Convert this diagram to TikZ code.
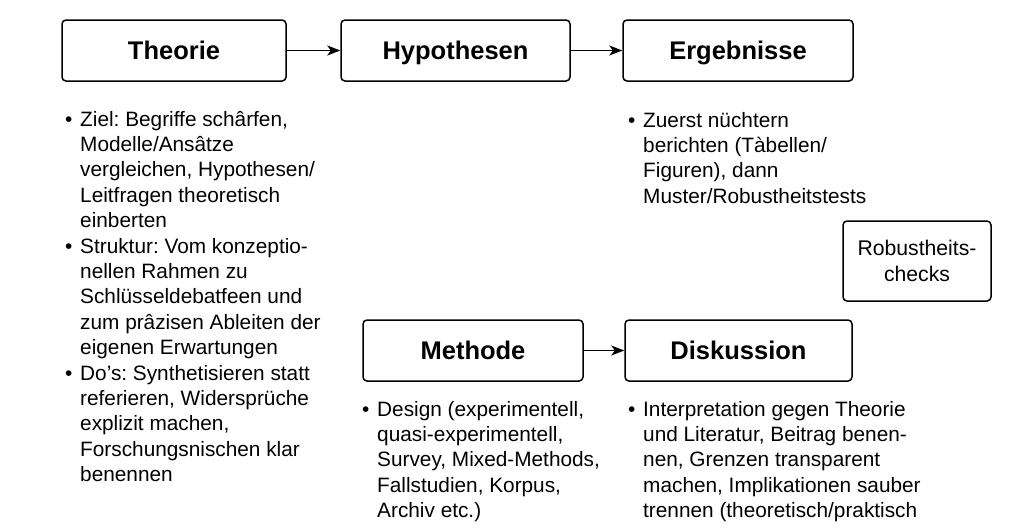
\documentclass[tikz,border=0pt]{standalone}
\usepackage{fontspec}
\setmainfont{Liberation Sans}
\usetikzlibrary{arrows.meta}
\newcommand{\bul}{\textbullet}
\frenchspacing
\begin{document}
\begin{tikzpicture}[x=1pt,y=-1pt,
  box/.style={draw, line width=1.5pt, rounded corners=4pt, inner sep=0pt,
    minimum height=61pt, text height=18.3pt, text depth=0pt,
    font=\fontsize{25.5}{30}\selectfont\bfseries},
  conn/.style={-{Stealth[length=13pt,width=10pt,inset=3.5pt]}, line width=1.5pt},
  txt/.style={anchor=base west, inner sep=0pt, font=\fontsize{20.8}{25.4}\selectfont}]
\useasboundingbox (0,0) rectangle (1024,528);
\node[box, minimum width=224pt] (theorie) at (174,50.5) {Theorie};
\node[box, minimum width=229pt] (hyp) at (455.5,50.5) {Hypothesen};
\node[box, minimum width=230pt] (erg) at (738,50.5) {Ergebnisse};
\node[box, minimum width=220pt] (meth) at (473,350.5) {Methode};
\node[box, minimum width=227pt] (disk) at (738.5,350.5) {Diskussion};
\node[draw, line width=1.5pt, rounded corners=4pt, inner sep=0pt,
  minimum width=148pt, minimum height=80pt, align=center,
  font=\fontsize{21.2}{25.4}\selectfont] (rob) at (917,261) {Robustheits-\\checks};
\draw[conn] (theorie) -- (hyp);
\draw[conn] (hyp) -- (erg);
\draw[conn] (meth) -- (disk);
\node[txt] (ttext) at (65,126) {\begin{tabular}[t]{@{}p{15pt}@{}l@{}}
\bul & Ziel: Begriffe schârfen,\\
 & Modelle/Ansâtze\\
 & vergleichen, Hypothesen/\\
 & Leitfragen theoretisch\\
 & einberten\\
\bul & Struktur: Vom konzeptio-\\
 & nellen Rahmen zu\\
 & Schlüsseldebatfeen und\\
 & zum prâzisen Ableiten der\\
 & eigenen Erwartungen\\
\bul & Do’s: Synthetisieren statt\\
 & referieren, Widersprüche\\
 & explizit machen,\\
 & Forschungsnischen klar\\
 & benennen
\end{tabular}};
\node[txt] (etext) at (628,127) {\begin{tabular}[t]{@{}p{15pt}@{}l@{}}
\bul & Zuerst nüchtern\\
 & berichten (Tàbellen/\\
 & Figuren), dann\\
 & Muster/Robustheitstests
\end{tabular}};
\node[txt] (mtext) at (362,416) {\begin{tabular}[t]{@{}p{15pt}@{}l@{}}
\bul & Design (experimentell,\\
 & quasi-experimentell,\\
 & Survey, Mixed-Methods,\\
 & Fallstudien, Korpus,\\
 & Archiv etc.)
\end{tabular}};
\node[txt] (dtext) at (628,416) {\begin{tabular}[t]{@{}p{15pt}@{}l@{}}
\bul & Interpretation gegen Theorie\\
 & und Literatur, Beitrag benen-\\
 & nen, Grenzen transparent\\
 & machen, Implikationen sauber\\
 & trennen (theoretisch/praktisch
\end{tabular}};
\end{tikzpicture}
\end{document}
